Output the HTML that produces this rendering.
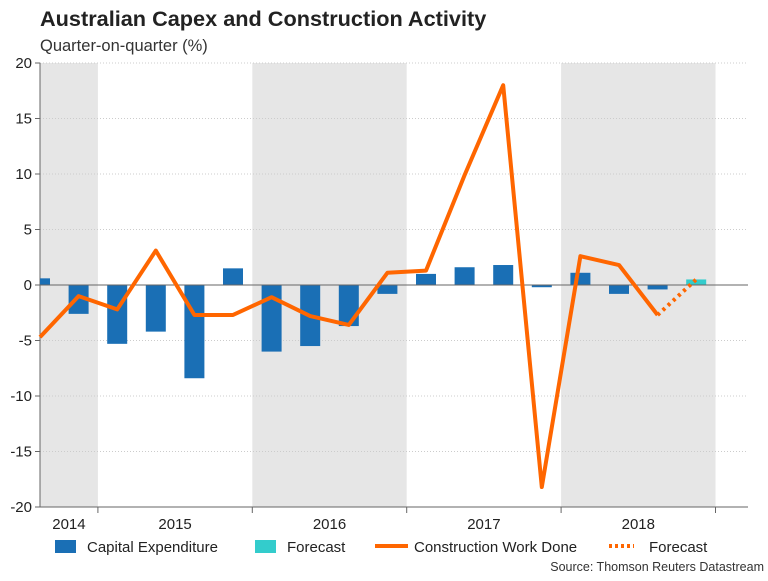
<!DOCTYPE html>
<html><head><meta charset="utf-8"><style>
body{margin:0;background:#fff;font-family:"Liberation Sans",sans-serif;}
svg text{font-family:"Liberation Sans",sans-serif;}
</style></head><body>
<svg width="768" height="576" id="c">
<text x="40" y="26" font-size="21.7" font-weight="bold" fill="#222">Australian Capex and Construction Activity</text>
<text x="40" y="51" font-size="16.5" fill="#333">Quarter-on-quarter (%)</text>
<g id="plot"></g>
<g font-size="15" fill="#222">
<rect x="55" y="540" width="21" height="13" fill="#1a6fb5"/>
<text x="87" y="552">Capital Expenditure</text>
<rect x="255" y="540" width="21" height="13" fill="#33cccc"/>
<text x="287" y="552">Forecast</text>
<line x1="375" y1="546" x2="408" y2="546" stroke="#ff6600" stroke-width="4"/>
<text x="414" y="552">Construction Work Done</text>
<line x1="609" y1="546" x2="634" y2="546" stroke="#ff6600" stroke-width="4" stroke-dasharray="3,3"/>
<text x="649" y="552">Forecast</text>
</g>
<text x="764" y="571" font-size="12.5" fill="#333" text-anchor="end">Source: Thomson Reuters Datastream</text>
</svg>
<script>
const capex=[0.6,-2.6,-5.3,-4.2,-8.4,1.5,-6.0,-5.5,-3.7,-0.8,1.0,1.6,1.8,-0.2,1.1,-0.8,-0.4];
const capexForecast=[0.5];
const construction=[-4.7,-1.0,-2.2,3.1,-2.7,-2.7,-1.1,-2.8,-3.6,1.1,1.3,9.9,18.0,-18.2,2.6,1.8,-2.7];
const constructionForecast=[0.5];
const years=["2014","2015","2016","2017","2018"];
const yTicks=[20,15,10,5,0,-5,-10,-15,-20];
const NS="http://www.w3.org/2000/svg";
const X0=40,X1=748,Y0=63,Y1=507,Q=38.6;
const xs=i=>X0+i*Q;
const ys=v=>Y0+(20-v)*(Y1-Y0)/40;
const g=document.getElementById('plot');
function mk(t,a){const e=document.createElementNS(NS,t);for(const k in a)e.setAttribute(k,a[k]);g.appendChild(e);return e;}
[0,2,4].forEach(yi=>{
 const a=xs(yi*4-2.5), b=Math.min(xs(yi*4+1.5),X1);
 const r=mk('rect',{x:Math.max(a,X0),y:Y0,width:b-Math.max(a,X0),height:Y1-Y0,fill:'#e6e6e6'});
 
 
});
yTicks.forEach(v=>{
 const y=ys(v);
 const l=mk('line',{x1:X0,x2:X1,y1:y,y2:y,stroke:v===0?'#666':'#ccc','stroke-width':1,'stroke-dasharray':v===0?'':'1,2'});
 
 
 mk('line',{x1:X0-5,x2:X0,y1:y,y2:y,stroke:'#666'});
 const t=mk('text',{x:X0-8,y:y+5,'font-size':15,'text-anchor':'end',fill:'#222'});
 t.textContent=v;
 
 
});
mk('line',{x1:X0,x2:X0,y1:Y0,y2:Y1,stroke:'#666'});
mk('line',{x1:X0,x2:X1,y1:Y1,y2:Y1,stroke:'#666'});
years.forEach((yr,i)=>{
 const a=Math.max(X0,xs(i*4-2.5)), b=xs(i*4+1.5);
 mk('line',{x1:b,x2:b,y1:Y1,y2:Y1+6,stroke:'#666'});
 const t=mk('text',{x:(a+b)/2,y:Y1+22,'font-size':15,'text-anchor':'middle',fill:'#222'});
 t.textContent=yr;
 
 
});
const defs=document.createElementNS(NS,'defs');defs.innerHTML='<clipPath id="cp"><rect x="40" y="63" width="708" height="444"/></clipPath>';g.appendChild(defs);
const bw=20;
capex.forEach((v,i)=>{
 const r=mk('rect',{x:xs(i)-bw/2,y:Math.min(ys(v),ys(0)),width:bw,height:Math.abs(ys(v)-ys(0)),fill:'#1a6fb5','clip-path':'url(#cp)'});
 
 
});
capexForecast.forEach((v,j)=>{const i=capex.length+j;
 const r=mk('rect',{x:xs(i)-bw/2,y:Math.min(ys(v),ys(0)),width:bw,height:Math.abs(ys(v)-ys(0)),fill:'#33cccc'});
 
 
});
mk('line',{x1:X0,x2:X1,y1:ys(0),y2:ys(0),stroke:'#666'});
const pl=mk('polyline',{points:construction.map((v,i)=>xs(i)+','+ys(v)).join(' '),fill:'none',stroke:'#ff6600','stroke-width':4,'stroke-linejoin':'round'});


const n=construction.length-1;
const fp=[xs(n)+','+ys(construction[n])].concat(constructionForecast.map((v,j)=>xs(n+1+j)+','+ys(v)));
const fl=mk('polyline',{points:fp.join(' '),fill:'none',stroke:'#ff6600','stroke-width':4,'stroke-dasharray':'3,4'});


</script>
</body></html>
